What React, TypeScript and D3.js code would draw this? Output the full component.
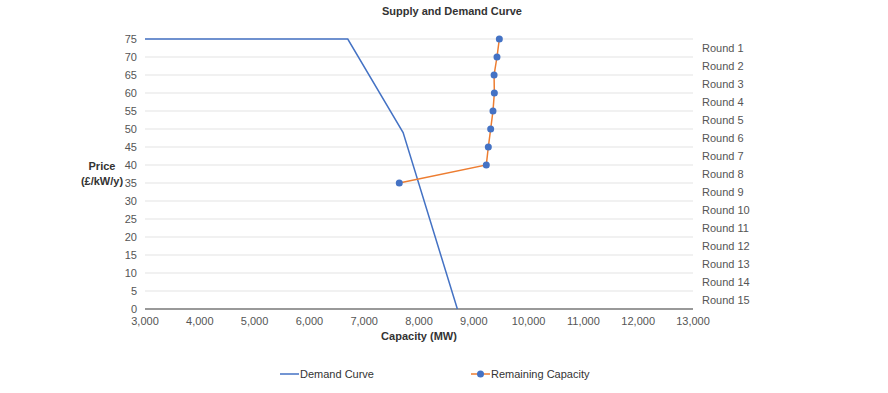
import React, { useRef, useEffect } from "react";
import * as d3 from "d3";

// demand curve (capacity MW, price £/kW/y)
const demandCapacity = [3000, 6700, 7710, 8700];
const demandPrice = [75, 75, 49, 0];

// remaining capacity per round
const remainingCapacity = [9466, 9423, 9370, 9375, 9350, 9308, 9265, 9228, 7640];
const remainingPrice = [75, 70, 65, 60, 55, 50, 45, 40, 35];

const rounds = d3.range(1, 16).map((i) => `Round ${i}`);
const priceTicks = d3.range(0, 80, 5);
const capacityTicks = d3.range(3000, 14000, 1000);

const App = () => {
  const svgRef = useRef<SVGSVGElement>(null);

  useEffect(() => {
    const width = 888;
    const height = 393;
    const margin = { top: 39, right: 195, bottom: 84, left: 145 };
    const font = "'Liberation Sans', Arial, sans-serif";

    const svg = d3.select(svgRef.current);
    svg.selectAll("*").remove();
    svg.attr("width", width).attr("height", height).style("font-family", font);

    const x = d3.scaleLinear().domain([3000, 13000]).range([margin.left, width - margin.right]);
    const y = d3.scaleLinear().domain([0, 75]).range([height - margin.bottom, margin.top]);
    const yRound = d3.scaleBand().domain(rounds).range([y(75), y(0)]);

    // gridlines
    svg
      .append("g")
      .selectAll("line")
      .data(priceTicks.filter((d) => d > 0))
      .join("line")
      .attr("x1", x(3000))
      .attr("x2", x(13000))
      .attr("y1", (d) => y(d))
      .attr("y2", (d) => y(d))
      .attr("stroke", "#e3e3e3")
      .attr("stroke-width", 1);

    // y tick labels
    svg
      .append("g")
      .selectAll("text")
      .data(priceTicks)
      .join("text")
      .attr("x", x(3000) - 8)
      .attr("y", (d) => y(d))
      .attr("dy", "0.35em")
      .attr("text-anchor", "end")
      .attr("font-size", 11)
      .attr("fill", "#555")
      .text((d) => d);

    // right round labels
    svg
      .append("g")
      .selectAll("text")
      .data(rounds)
      .join("text")
      .attr("x", x(13000) + 9)
      .attr("y", (d) => yRound(d)! + yRound.bandwidth() / 2)
      .attr("dy", "0.35em")
      .attr("font-size", 11)
      .attr("fill", "#555")
      .text((d) => d);

    // x axis
    svg
      .append("line")
      .attr("x1", x(3000))
      .attr("x2", x(13000))
      .attr("y1", y(0))
      .attr("y2", y(0))
      .attr("stroke", "#777")
      .attr("stroke-width", 1.5);

    svg
      .append("g")
      .selectAll("text")
      .data(capacityTicks)
      .join("text")
      .attr("x", (d) => x(d))
      .attr("y", y(0) + 16)
      .attr("text-anchor", "middle")
      .attr("font-size", 11)
      .attr("fill", "#555")
      .text((d) => d3.format(",")(d));

    // titles
    svg
      .append("text")
      .attr("x", 452)
      .attr("y", 15)
      .attr("text-anchor", "middle")
      .attr("font-size", 11)
      .attr("font-weight", "bold")
      .attr("fill", "#333")
      .text("Supply and Demand Curve");

    svg
      .append("text")
      .attr("x", (x(3000) + x(13000)) / 2)
      .attr("y", y(0) + 31)
      .attr("text-anchor", "middle")
      .attr("font-size", 11)
      .attr("font-weight", "bold")
      .attr("fill", "#333")
      .text("Capacity (MW)");

    const yTitle = svg
      .append("text")
      .attr("text-anchor", "middle")
      .attr("font-size", 11)
      .attr("font-weight", "bold")
      .attr("fill", "#333");
    yTitle.append("tspan").attr("x", 102).attr("y", 170).text("Price");
    yTitle.append("tspan").attr("x", 102).attr("y", 185).text("(£/kW/y)");

    const line = d3
      .line<[number, number]>()
      .x((d) => x(d[0]))
      .y((d) => y(d[1]));

    const demand = demandCapacity.map((c, i) => [c, demandPrice[i]] as [number, number]);
    const remaining = remainingCapacity.map((c, i) => [c, remainingPrice[i]] as [number, number]);

    svg
      .append("path")
      .attr("d", line(demand))
      .attr("fill", "none")
      .attr("stroke", "#4472c4")
      .attr("stroke-width", 1.5);

    svg
      .append("path")
      .attr("d", line(remaining))
      .attr("fill", "none")
      .attr("stroke", "#ed7d31")
      .attr("stroke-width", 1.5);

    svg
      .append("g")
      .selectAll("circle")
      .data(remaining)
      .join("circle")
      .attr("cx", (d) => x(d[0]))
      .attr("cy", (d) => y(d[1]))
      .attr("r", 3.5)
      .attr("fill", "#4472c4");

    // legend
    const legend = svg.append("g").attr("transform", "translate(0,374)");
    legend
      .append("line")
      .attr("x1", 280)
      .attr("x2", 299)
      .attr("stroke", "#4472c4")
      .attr("stroke-width", 1.5);
    legend
      .append("text")
      .attr("x", 300)
      .attr("dy", "0.35em")
      .attr("font-size", 11)
      .attr("fill", "#333")
      .text("Demand Curve");

    legend
      .append("line")
      .attr("x1", 471)
      .attr("x2", 490)
      .attr("stroke", "#ed7d31")
      .attr("stroke-width", 1.5);
    legend.append("circle").attr("cx", 480.5).attr("r", 3.5).attr("fill", "#4472c4");
    legend
      .append("text")
      .attr("x", 491)
      .attr("dy", "0.35em")
      .attr("font-size", 11)
      .attr("fill", "#333")
      .text("Remaining Capacity");
  }, []);

  return (
    <div style={{ position: "absolute", left: 0, top: 0 }}>
      <svg ref={svgRef}></svg>
    </div>
  );
};

export default App;
